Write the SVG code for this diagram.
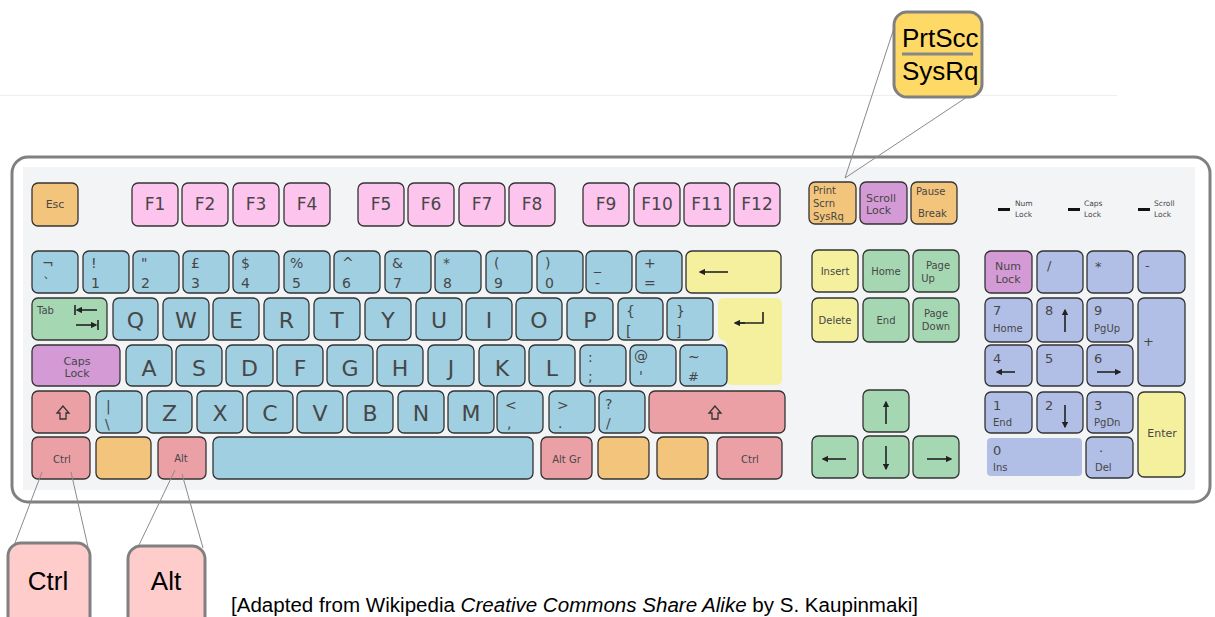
<svg xmlns="http://www.w3.org/2000/svg" width="1215" height="617" viewBox="0 0 1215 617">
<style>
.k{stroke:#333;stroke-width:1.3}
.or{fill:#f3c47b}.pk{fill:#fdc4ee}.bl{fill:#a0cfe2}.ye{fill:#f4f09e}.gr{fill:#a6d7b3}.pu{fill:#d49ad6}.rd{fill:#eba0a6}.lv{fill:#b1bee6}
.t{font-family:"DejaVu Sans",Verdana,sans-serif;fill:#474747}
.c{text-anchor:middle}
.s7{font-size:7.5px}.s10{font-size:10px}.s11{font-size:11px}.s13{font-size:13px}.s14{font-size:14px}.s17{font-size:17px}.s22{font-size:22px}
.ar{stroke:#222;stroke-width:1.6;fill:none;marker-end:url(#ah)}
.ln{stroke:#222;stroke-width:1.6;fill:none}
.cn{stroke:#8a8a8a;stroke-width:1}
.co{stroke:#808080;stroke-width:3}
.ct{font-family:"Liberation Sans",Arial,sans-serif;font-size:26px;fill:#000}
</style>
<defs>
<marker id="ah" viewBox="0 0 10 10" refX="8" refY="5" markerWidth="4" markerHeight="4" orient="auto"><path d="M0,0L10,5L0,10z" fill="#222"/></marker>
</defs>
<line x1="0" y1="95.5" x2="1117" y2="95.5" stroke="#eeeeee"/>
<g id="keyboard">
<rect x="12" y="157" width="1198" height="345" rx="16" fill="#ffffff" stroke="#808080" stroke-width="3"/>
<rect x="23" y="167" width="1172" height="323" fill="#f3f4f6"/>
</g>
<g id="keys">
<g id="k-esc"><rect class="k or" x="32" y="183" width="46" height="43" rx="6"/><text class="t c s11" x="55" y="208" fill="#6b5a3a">Esc</text></g>
<g id="k-f1"><rect class="k pk" x="132" y="183" width="46" height="43" rx="6"/><text class="t c s17" x="155" y="210">F1</text></g>
<g id="k-f2"><rect class="k pk" x="182" y="183" width="46" height="43" rx="6"/><text class="t c s17" x="205" y="210">F2</text></g>
<g id="k-f3"><rect class="k pk" x="233" y="183" width="46" height="43" rx="6"/><text class="t c s17" x="256" y="210">F3</text></g>
<g id="k-f4"><rect class="k pk" x="284" y="183" width="46" height="43" rx="6"/><text class="t c s17" x="307" y="210">F4</text></g>
<g id="k-f5"><rect class="k pk" x="358" y="183" width="46" height="43" rx="6"/><text class="t c s17" x="381" y="210">F5</text></g>
<g id="k-f6"><rect class="k pk" x="408" y="183" width="46" height="43" rx="6"/><text class="t c s17" x="431" y="210">F6</text></g>
<g id="k-f7"><rect class="k pk" x="459" y="183" width="46" height="43" rx="6"/><text class="t c s17" x="482" y="210">F7</text></g>
<g id="k-f8"><rect class="k pk" x="509" y="183" width="46" height="43" rx="6"/><text class="t c s17" x="532" y="210">F8</text></g>
<g id="k-f9"><rect class="k pk" x="583" y="183" width="46" height="43" rx="6"/><text class="t c s17" x="606" y="210">F9</text></g>
<g id="k-f10"><rect class="k pk" x="634" y="183" width="46" height="43" rx="6"/><text class="t c s17" x="657" y="210">F10</text></g>
<g id="k-f11"><rect class="k pk" x="684" y="183" width="46" height="43" rx="6"/><text class="t c s17" x="707" y="210">F11</text></g>
<g id="k-f12"><rect class="k pk" x="734" y="183" width="46" height="43" rx="6"/><text class="t c s17" x="757" y="210">F12</text></g>
<g id="k-print"><rect class="k or" x="809" y="182" width="47" height="42" rx="6"/><text class="t s10" x="813" y="194">Print</text><text class="t s10" x="813" y="207">Scrn</text><text class="t s10" x="813" y="220">SysRq</text></g>
<g id="k-scroll"><rect class="k pu" x="860" y="182" width="47" height="42" rx="6"/><text class="t s11" x="866" y="202">Scroll</text><text class="t s11" x="866" y="214">Lock</text></g>
<g id="k-pause"><rect class="k or" x="911" y="182" width="46" height="42" rx="6"/><text class="t s10" x="916" y="195">Pause</text><text class="t s10" x="918" y="217">Break</text></g>
<g id="ind-num"><rect x="998" y="208" width="12" height="3" fill="#111"/><text class="t s7" x="1015" y="206">Num</text><text class="t s7" x="1015" y="217">Lock</text></g>
<g id="ind-caps"><rect x="1068" y="208" width="12" height="3" fill="#111"/><text class="t s7" x="1084" y="206">Caps</text><text class="t s7" x="1084" y="217">Lock</text></g>
<g id="ind-scroll"><rect x="1138" y="208" width="12" height="3" fill="#111"/><text class="t s7" x="1154" y="206">Scroll</text><text class="t s7" x="1154" y="217">Lock</text></g>

<g id="k-grave"><rect class="k bl" x="32" y="251" width="46" height="42" rx="6"/><text class="t s14" x="42" y="268">¬</text><text class="t s14" x="43" y="288">`</text></g>
<g id="k-1"><rect class="k bl" x="83" y="251" width="46" height="42" rx="6"/><text class="t s14" x="91" y="268">!</text><text class="t s14" x="91" y="288">1</text></g>
<g id="k-2"><rect class="k bl" x="133" y="251" width="46" height="42" rx="6"/><text class="t s14" x="141" y="268">"</text><text class="t s14" x="141" y="288">2</text></g>
<g id="k-3"><rect class="k bl" x="183" y="251" width="46" height="42" rx="6"/><text class="t s14" x="191" y="268">£</text><text class="t s14" x="191" y="288">3</text></g>
<g id="k-4"><rect class="k bl" x="233" y="251" width="46" height="42" rx="6"/><text class="t s14" x="241" y="268">$</text><text class="t s14" x="241" y="288">4</text></g>
<g id="k-5"><rect class="k bl" x="284" y="251" width="46" height="42" rx="6"/><text class="t s14" x="290" y="268">%</text><text class="t s14" x="292" y="288">5</text></g>
<g id="k-6"><rect class="k bl" x="334" y="251" width="46" height="42" rx="6"/><text class="t s14" x="342" y="268">^</text><text class="t s14" x="342" y="288">6</text></g>
<g id="k-7"><rect class="k bl" x="385" y="251" width="46" height="42" rx="6"/><text class="t s14" x="392" y="268">&amp;</text><text class="t s14" x="393" y="288">7</text></g>
<g id="k-8"><rect class="k bl" x="435" y="251" width="46" height="42" rx="6"/><text class="t s14" x="443" y="268">*</text><text class="t s14" x="443" y="288">8</text></g>
<g id="k-9"><rect class="k bl" x="486" y="251" width="46" height="42" rx="6"/><text class="t s14" x="494" y="268">(</text><text class="t s14" x="494" y="288">9</text></g>
<g id="k-0"><rect class="k bl" x="537" y="251" width="46" height="42" rx="6"/><text class="t s14" x="545" y="268">)</text><text class="t s14" x="545" y="288">0</text></g>
<g id="k-minus"><rect class="k bl" x="586" y="251" width="46" height="42" rx="6"/><text class="t s14" x="594" y="270">_</text><text class="t s14" x="595" y="288">-</text></g>
<g id="k-equal"><rect class="k bl" x="636" y="251" width="46" height="42" rx="6"/><text class="t s14" x="644" y="268">+</text><text class="t s14" x="644" y="288">=</text></g>
<g id="k-back"><rect class="k ye" x="686" y="251" width="95" height="42" rx="6"/><line class="ar" x1="728" y1="272" x2="700" y2="272"/></g>
<g id="k-insert"><rect class="k ye" x="812" y="250" width="46" height="42" rx="6"/><text class="t c s10" x="835" y="275">Insert</text></g>
<g id="k-home"><rect class="k gr" x="863" y="250" width="46" height="42" rx="6"/><text class="t c s10" x="886" y="275">Home</text></g>
<g id="k-pgup"><rect class="k gr" x="913" y="250" width="46" height="42" rx="6"/><text class="t c s10" x="938" y="269">Page</text><text class="t c s10" x="928" y="282">Up</text></g>
<g id="k-numlock"><rect class="k pu" x="985" y="251" width="47" height="42" rx="6"/><text class="t c s11" x="1008" y="270">Num</text><text class="t c s11" x="1008" y="283">Lock</text></g>
<g id="k-ndiv"><rect class="k lv" x="1037" y="251" width="46" height="42" rx="6"/><text class="t s13" x="1047" y="270">/</text></g>
<g id="k-nmul"><rect class="k lv" x="1087" y="251" width="46" height="42" rx="6"/><text class="t s13" x="1095" y="271">*</text></g>
<g id="k-nsub"><rect class="k lv" x="1138" y="251" width="47" height="42" rx="6"/><text class="t s13" x="1145" y="270">-</text></g>

<g id="k-tab"><rect class="k gr" x="32" y="298" width="75" height="42" rx="6"/><text class="t s10" x="37" y="314">Tab</text><line class="ln" x1="75" y1="305" x2="75" y2="315"/><line class="ar" x1="97" y1="310" x2="77" y2="310"/><line class="ln" x1="98" y1="320" x2="98" y2="330"/><line class="ar" x1="76" y1="325" x2="96" y2="325"/></g>
<g id="k-q"><rect class="k bl" x="113" y="298" width="45" height="42" rx="6"/><text class="t c s22" x="135.5" y="328">Q</text></g>
<g id="k-w"><rect class="k bl" x="163" y="298" width="46" height="42" rx="6"/><text class="t c s22" x="186" y="328">W</text></g>
<g id="k-e"><rect class="k bl" x="213" y="298" width="46" height="42" rx="6"/><text class="t c s22" x="236" y="328">E</text></g>
<g id="k-r"><rect class="k bl" x="264" y="298" width="45" height="42" rx="6"/><text class="t c s22" x="286.5" y="328">R</text></g>
<g id="k-t"><rect class="k bl" x="314" y="298" width="46" height="42" rx="6"/><text class="t c s22" x="337" y="328">T</text></g>
<g id="k-y"><rect class="k bl" x="365" y="298" width="46" height="42" rx="6"/><text class="t c s22" x="388" y="328">Y</text></g>
<g id="k-u"><rect class="k bl" x="416" y="298" width="46" height="42" rx="6"/><text class="t c s22" x="439" y="328">U</text></g>
<g id="k-i"><rect class="k bl" x="466" y="298" width="46" height="42" rx="6"/><text class="t c s22" x="489" y="328">I</text></g>
<g id="k-o"><rect class="k bl" x="516" y="298" width="46" height="42" rx="6"/><text class="t c s22" x="539" y="328">O</text></g>
<g id="k-p"><rect class="k bl" x="567" y="298" width="46" height="42" rx="6"/><text class="t c s22" x="590" y="328">P</text></g>
<g id="k-lbr"><rect class="k bl" x="618" y="298" width="45" height="42" rx="6"/><text class="t s14" x="626" y="316">{</text><text class="t s14" x="626" y="336">[</text></g>
<g id="k-rbr"><rect class="k bl" x="667" y="298" width="46" height="42" rx="6"/><text class="t s14" x="676" y="316">}</text><text class="t s14" x="676" y="336">]</text></g>
<g id="k-enter"><path d="M718,304q0,-6 6,-6H776q6,0 6,6V379q0,6 -6,6H733q-6,0 -6,-6V346q0,-6 -6,-6H724q-6,0 -6,-6Z" fill="#f4f09e"/><path class="ln" d="M763,312V323H737"/><line class="ar" x1="745" y1="323" x2="735" y2="323"/></g>
<g id="k-delete"><rect class="k ye" x="812" y="298" width="46" height="44" rx="6"/><text class="t c s10" x="835" y="324">Delete</text></g>
<g id="k-end"><rect class="k gr" x="863" y="298" width="46" height="44" rx="6"/><text class="t c s10" x="886" y="324">End</text></g>
<g id="k-pgdn"><rect class="k gr" x="913" y="298" width="46" height="44" rx="6"/><text class="t c s10" x="936" y="317">Page</text><text class="t c s10" x="936" y="330">Down</text></g>
<g id="k-n7"><rect class="k lv" x="985" y="298" width="47" height="44" rx="6"/><text class="t s13" x="993" y="315">7</text><text class="t s10" x="993" y="332">Home</text></g>
<g id="k-n8"><rect class="k lv" x="1037" y="298" width="46" height="44" rx="6"/><text class="t s13" x="1045" y="315">8</text><line class="ar" x1="1065" y1="332" x2="1065" y2="310"/></g>
<g id="k-n9"><rect class="k lv" x="1087" y="298" width="46" height="44" rx="6"/><text class="t s13" x="1094" y="315">9</text><text class="t s10" x="1094" y="332">PgUp</text></g>
<g id="k-nadd"><rect class="k lv" x="1138" y="298" width="47" height="88" rx="6"/><text class="t s13" x="1143" y="346">+</text></g>

<g id="k-caps"><rect class="k pu" x="32" y="345" width="88" height="41" rx="6"/><text class="t c s11" x="77" y="365" fill="#6a3d6c">Caps</text><text class="t c s11" x="77" y="377" fill="#6a3d6c">Lock</text></g>
<g id="k-a"><rect class="k bl" x="126" y="345" width="46" height="41" rx="6"/><text class="t c s22" x="149" y="376">A</text></g>
<g id="k-s"><rect class="k bl" x="176" y="345" width="46" height="41" rx="6"/><text class="t c s22" x="199" y="376">S</text></g>
<g id="k-d"><rect class="k bl" x="226" y="345" width="47" height="41" rx="6"/><text class="t c s22" x="249.5" y="376">D</text></g>
<g id="k-f"><rect class="k bl" x="277" y="345" width="46" height="41" rx="6"/><text class="t c s22" x="300" y="376">F</text></g>
<g id="k-g"><rect class="k bl" x="327" y="345" width="46" height="41" rx="6"/><text class="t c s22" x="350" y="376">G</text></g>
<g id="k-h"><rect class="k bl" x="377" y="345" width="46" height="41" rx="6"/><text class="t c s22" x="400" y="376">H</text></g>
<g id="k-j"><rect class="k bl" x="428" y="345" width="46" height="41" rx="6"/><text class="t c s22" x="451" y="376">J</text></g>
<g id="k-k"><rect class="k bl" x="479" y="345" width="46" height="41" rx="6"/><text class="t c s22" x="502" y="376">K</text></g>
<g id="k-l"><rect class="k bl" x="529" y="345" width="46" height="41" rx="6"/><text class="t c s22" x="552" y="376">L</text></g>
<g id="k-semi"><rect class="k bl" x="580" y="345" width="46" height="41" rx="6"/><text class="t s14" x="588" y="362">:</text><text class="t s14" x="588" y="381">;</text></g>
<g id="k-quote"><rect class="k bl" x="630" y="345" width="46" height="41" rx="6"/><text class="t s14" x="634" y="361">@</text><text class="t s14" x="639" y="381">'</text></g>
<g id="k-hash"><rect class="k bl" x="680" y="345" width="47" height="41" rx="6"/><text class="t s14" x="688" y="362">~</text><text class="t s13" x="688" y="381">#</text></g>
<g id="k-n4"><rect class="k lv" x="985" y="345" width="47" height="41" rx="6"/><text class="t s13" x="993" y="363">4</text><line class="ar" x1="1015" y1="372" x2="997" y2="372"/></g>
<g id="k-n5"><rect class="k lv" x="1037" y="345" width="46" height="41" rx="6"/><text class="t s13" x="1045" y="363">5</text></g>
<g id="k-n6"><rect class="k lv" x="1087" y="345" width="46" height="41" rx="6"/><text class="t s13" x="1094" y="363">6</text><line class="ar" x1="1097" y1="372" x2="1120" y2="372"/></g>

<g id="k-lshift"><rect class="k rd" x="32" y="391" width="58" height="42" rx="6"/><path d="M63,406L57,413H60V419H66V413H69Z" fill="none" stroke="#333" stroke-width="1.3"/></g>
<g id="k-bslash"><rect class="k bl" x="96" y="391" width="46" height="42" rx="6"/><text class="t s14" x="106" y="411">|</text><text class="t s14" x="105" y="429">\</text></g>
<g id="k-z"><rect class="k bl" x="147" y="391" width="45" height="42" rx="6"/><text class="t c s22" x="169.5" y="421">Z</text></g>
<g id="k-x"><rect class="k bl" x="197" y="391" width="46" height="42" rx="6"/><text class="t c s22" x="220" y="421">X</text></g>
<g id="k-c"><rect class="k bl" x="247" y="391" width="46" height="42" rx="6"/><text class="t c s22" x="270" y="421">C</text></g>
<g id="k-v"><rect class="k bl" x="297" y="391" width="46" height="42" rx="6"/><text class="t c s22" x="320" y="421">V</text></g>
<g id="k-b"><rect class="k bl" x="347" y="391" width="46" height="42" rx="6"/><text class="t c s22" x="370" y="421">B</text></g>
<g id="k-n"><rect class="k bl" x="398" y="391" width="46" height="42" rx="6"/><text class="t c s22" x="421" y="421">N</text></g>
<g id="k-m"><rect class="k bl" x="448" y="391" width="46" height="42" rx="6"/><text class="t c s22" x="471" y="421">M</text></g>
<g id="k-comma"><rect class="k bl" x="497" y="391" width="46" height="42" rx="6"/><text class="t s14" x="505" y="410">&lt;</text><text class="t s14" x="507" y="428">,</text></g>
<g id="k-period"><rect class="k bl" x="549" y="391" width="46" height="42" rx="6"/><text class="t s14" x="557" y="410">&gt;</text><text class="t s14" x="558" y="428">.</text></g>
<g id="k-slash"><rect class="k bl" x="599" y="391" width="46" height="42" rx="6"/><text class="t s14" x="605" y="409">?</text><text class="t s14" x="606" y="428">/</text></g>
<g id="k-rshift"><rect class="k rd" x="649" y="391" width="136" height="42" rx="6"/><path d="M715,406L709,413H712V419H718V413H721Z" fill="none" stroke="#333" stroke-width="1.3"/></g>
<g id="k-up"><rect class="k gr" x="863" y="390" width="46" height="42" rx="6"/><line class="ar" x1="886" y1="424" x2="886" y2="402"/></g>
<g id="k-n1"><rect class="k lv" x="985" y="392" width="47" height="41" rx="6"/><text class="t s13" x="993" y="410">1</text><text class="t s10" x="993" y="426">End</text></g>
<g id="k-n2"><rect class="k lv" x="1037" y="392" width="46" height="41" rx="6"/><text class="t s13" x="1045" y="410">2</text><line class="ar" x1="1065" y1="405" x2="1065" y2="427"/></g>
<g id="k-n3"><rect class="k lv" x="1087" y="392" width="46" height="41" rx="6"/><text class="t s13" x="1094" y="410">3</text><text class="t s10" x="1094" y="426">PgDn</text></g>
<g id="k-nenter"><rect class="k ye" x="1138" y="392" width="47" height="85" rx="6"/><text class="t c s11" x="1162" y="437">Enter</text></g>

<g id="k-lctrl"><rect class="k rd" x="32" y="437" width="58" height="42" rx="6"/><text class="t c s10" x="62" y="463" fill="#6b4548">Ctrl</text></g>
<g id="k-lwin"><rect class="k or" x="96" y="437" width="55" height="42" rx="6"/></g>
<g id="k-lalt"><rect class="k rd" x="158" y="437" width="48" height="42" rx="6"/><text class="t c s10" x="181" y="462" fill="#6b4548">Alt</text></g>
<g id="k-space"><rect class="k bl" x="213" y="437" width="320" height="42" rx="6"/></g>
<g id="k-altgr"><rect class="k rd" x="541" y="437" width="51" height="42" rx="6"/><text class="t c s10" x="566.5" y="463" fill="#6b4548">Alt Gr</text></g>
<g id="k-rwin"><rect class="k or" x="598" y="437" width="51" height="42" rx="6"/></g>
<g id="k-menu"><rect class="k or" x="657" y="437" width="51" height="42" rx="6"/></g>
<g id="k-rctrl"><rect class="k rd" x="717" y="437" width="65" height="42" rx="6"/><text class="t c s10" x="750" y="463" fill="#6b4548">Ctrl</text></g>
<g id="k-left"><rect class="k gr" x="812" y="436" width="46" height="42" rx="6"/><line class="ar" x1="846" y1="459" x2="823" y2="459"/></g>
<g id="k-down"><rect class="k gr" x="863" y="436" width="46" height="42" rx="6"/><line class="ar" x1="886" y1="446" x2="886" y2="469"/></g>
<g id="k-right"><rect class="k gr" x="913" y="436" width="46" height="42" rx="6"/><line class="ar" x1="927" y1="459" x2="951" y2="459"/></g>
<g id="k-n0"><rect class="lv" x="987" y="438" width="95" height="38" rx="4"/><text class="t s13" x="993" y="455">0</text><text class="t s10" x="993" y="471">Ins</text></g>
<g id="k-ndot"><rect class="k lv" x="1086" y="437" width="47" height="41" rx="6"/><text class="t s13" x="1099" y="452">.</text><text class="t s10" x="1095" y="471">Del</text></g>
</g>

<g id="connectors">
<line class="cn" x1="845" y1="178" x2="894" y2="28"/>
<line class="cn" x1="845" y1="178" x2="967" y2="97"/>
<line class="cn" x1="42" y1="472" x2="15" y2="543"/>
<line class="cn" x1="71" y1="472" x2="88" y2="547"/>
<line class="cn" x1="175" y1="470" x2="139" y2="545"/>
<line class="cn" x1="182" y1="474" x2="203" y2="548"/>
</g>

<g id="callout-prtscc">
<rect class="co" x="894" y="12" width="88" height="85" rx="13" fill="#ffd966"/>
<text class="ct" x="902" y="47" font-size="25">PrtScc</text>
<line x1="902" y1="54" x2="973" y2="54" stroke="#888" stroke-width="3"/>
<text class="ct" x="902" y="80" font-size="25">SysRq</text>
</g>
<g id="callout-ctrl">
<rect class="co" x="8" y="543" width="82" height="90" rx="13" fill="#ffcccc"/>
<text class="ct c" x="48" y="590">Ctrl</text>
</g>
<g id="callout-alt">
<rect class="co" x="128" y="546" width="77" height="90" rx="13" fill="#ffcccc"/>
<text class="ct c" x="166" y="590">Alt</text>
</g>
<text id="caption" x="231" y="612" font-family="'Liberation Sans',Arial,sans-serif" font-size="20" fill="#000" textLength="687" lengthAdjust="spacingAndGlyphs">[Adapted from Wikipedia <tspan font-style="italic">Creative Commons Share Alike</tspan> by S. Kaupinmaki]</text>
</svg>
